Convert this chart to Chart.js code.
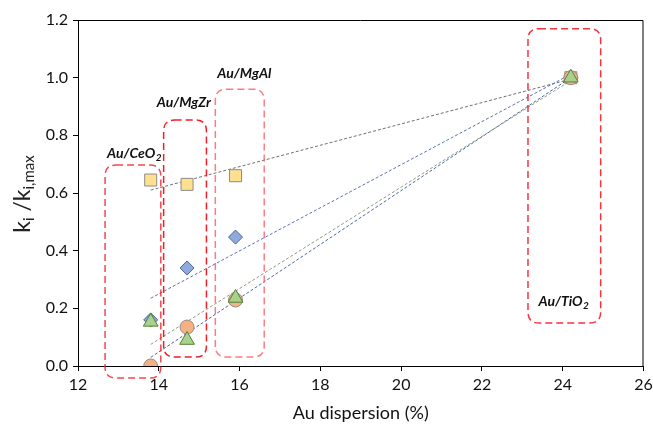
<!DOCTYPE html>
<html>
<head>
<meta charset="utf-8">
<script src="https://cdn.jsdelivr.net/npm/chart.js@4/dist/chart.umd.min.js"></script>
<style>
  html, body { margin: 0; padding: 0; background: #fff; }
  #wrap { width: 653px; height: 426px; }
</style>
</head>
<body>
<div id="wrap"><canvas id="dispChart" width="653" height="426"></canvas></div>
<script>
// Au dispersion (%) for each catalyst
const catalysts = ['Au/CeO2', 'Au/MgZr', 'Au/MgAl', 'Au/TiO2'];
const dispersion = [13.8, 14.7, 15.9, 24.2];

// normalised rate constants k_i / k_i,max, one array per series
const kSquare   = [0.645, 0.63, 0.66, 1.0];
const kDiamond  = [0.16, 0.34, 0.447, 1.0];
const kCircle   = [0.0, 0.135, 0.229, 1.0];
const kTriangle = [0.153, 0.09, 0.236, 1.0];

// trendline end values (at first and last dispersion)
const trendX        = [13.8, 24.2];
const trendSquare   = [0.61, 0.995];
const trendDiamond  = [0.235, 1.012];
const trendCircle   = [0.03, 1.0];
const trendTriangle = [0.075, 0.99];

const xTicks = [12, 14, 16, 18, 20, 22, 24, 26];
const yTicks = [0.0, 0.2, 0.4, 0.6, 0.8, 1.0, 1.2];

const FONT = "Lato, 'Open Sans', sans-serif";
Chart.defaults.font.family = FONT;
Chart.defaults.color = '#222';

function pts(xs, ys) {
  return xs.map((x, i) => ({ x: x, y: ys[i] }));
}

// dashed group boxes, in data units
const groupBoxes = [
  { label: 'Au/CeO', x0: 12.67, x1: 14.05, y0: -0.042, y1: 0.697, color: 'rgba(240,40,50,0.85)', tx: 12.72, ty: 0.72 },
  { label: 'Au/MgZr', x0: 14.12, x1: 15.18, y0: 0.031, y1: 0.853, color: 'rgba(235,20,30,0.95)', tx: 13.95, ty: 0.897 },
  { label: 'Au/MgAl', x0: 15.40, x1: 16.61, y0: 0.031, y1: 0.96, color: 'rgba(255,90,100,0.8)', tx: 15.45, ty: 1.0 },
  { label: 'Au/TiO', x0: 23.14, x1: 24.94, y0: 0.149, y1: 1.17, color: 'rgba(245,30,40,0.9)', tx: 23.4, ty: 0.208 }
];
const subTwo = { 'Au/CeO': true, 'Au/TiO': true };

function roundRect(ctx, x, y, w, h, r) {
  ctx.beginPath();
  ctx.moveTo(x + r, y);
  ctx.lineTo(x + w - r, y);
  ctx.quadraticCurveTo(x + w, y, x + w, y + r);
  ctx.lineTo(x + w, y + h - r);
  ctx.quadraticCurveTo(x + w, y + h, x + w - r, y + h);
  ctx.lineTo(x + r, y + h);
  ctx.quadraticCurveTo(x, y + h, x, y + h - r);
  ctx.lineTo(x, y + r);
  ctx.quadraticCurveTo(x, y, x + r, y);
  ctx.closePath();
}

const extras = {
  id: 'extras',
  beforeDatasetsDraw(chart) {
    const ctx = chart.ctx;
    const a = chart.chartArea;
    ctx.save();
    // frame top and right
    ctx.strokeStyle = '#000';
    ctx.lineWidth = 1;
    ctx.beginPath();
    ctx.moveTo(a.left, a.top + 0.5);
    ctx.lineTo(a.right - 0.5, a.top + 0.5);
    ctx.lineTo(a.right - 0.5, a.bottom);
    ctx.stroke();
    ctx.restore();
  },
  afterDatasetsDraw(chart) {
    const ctx = chart.ctx, xs = chart.scales.x, ys = chart.scales.y;
    ctx.save();
    groupBoxes.forEach(b => {
      const l = xs.getPixelForValue(b.x0), r = xs.getPixelForValue(b.x1);
      const t = ys.getPixelForValue(b.y1), btm = ys.getPixelForValue(b.y0);
      ctx.strokeStyle = b.color;
      ctx.lineWidth = 1.5;
      ctx.setLineDash([7, 4]);
      roundRect(ctx, l, t, r - l, btm - t, 11);
      ctx.stroke();
      ctx.setLineDash([]);
      // label
      const tx = xs.getPixelForValue(b.tx), ty = ys.getPixelForValue(b.ty);
      ctx.fillStyle = '#111';
      ctx.font = "italic bold 14px " + FONT;
      ctx.textBaseline = 'alphabetic';
      ctx.textAlign = 'left';
      ctx.fillText(b.label, tx, ty);
      if (subTwo[b.label]) {
        const w = ctx.measureText(b.label).width;
        ctx.font = "italic bold 10px " + FONT;
        ctx.fillText('2', tx + w + 0.5, ty + 3);
      }
    });
    ctx.restore();

    // y axis title with subscripts: k_i /k_i,max
    ctx.save();
    ctx.translate(30, 194);
    ctx.rotate(-Math.PI / 2);
    ctx.fillStyle = '#222';
    const parts = [
      { t: 'k', big: true }, { t: 'i', big: false }, { t: ' /k', big: true }, { t: 'i,max', big: false }
    ];
    let total = 0;
    parts.forEach(p => {
      ctx.font = (p.big ? '23px ' : '15px ') + FONT;
      p.w = ctx.measureText(p.t).width;
      total += p.w;
    });
    let cx = -total / 2;
    ctx.textBaseline = 'alphabetic';
    ctx.textAlign = 'left';
    parts.forEach(p => {
      ctx.font = (p.big ? '23px ' : '15px ') + FONT;
      ctx.fillText(p.t, cx, p.big ? 0 : 4);
      cx += p.w;
    });
    ctx.restore();
  }
};

const ctx = document.getElementById('dispChart').getContext('2d');
const dispChart = new Chart(ctx, {
  type: 'scatter',
  data: {
    datasets: [
      {
        label: 'triangle',
        data: pts(dispersion, kTriangle),
        pointStyle: 'triangle',
        pointRadius: 8.5,
        backgroundColor: '#a9d18e',
        borderColor: '#548235',
        borderWidth: 1,
        order: 1
      },
      {
        label: 'circle',
        data: pts(dispersion, kCircle),
        pointStyle: 'circle',
        pointRadius: 7,
        backgroundColor: '#f4b183',
        borderColor: '#9c8a80',
        borderWidth: 1,
        order: 2
      },
      {
        label: 'diamond',
        data: pts(dispersion, kDiamond),
        pointStyle: 'rectRot',
        pointRadius: 7,
        backgroundColor: '#8faadc',
        borderColor: '#4a6498',
        borderWidth: 1,
        order: 3
      },
      {
        label: 'square',
        data: pts(dispersion, kSquare),
        pointStyle: 'rect',
        pointRadius: 8.5,
        backgroundColor: '#ffe08f',
        borderColor: '#8c8c8c',
        borderWidth: 1,
        order: 4
      },
      {
        type: 'line', label: 'trend square', data: pts(trendX, trendSquare),
        borderColor: '#6f6f6f', borderWidth: 1, borderDash: [3, 2], pointRadius: 0, order: 5
      },
      {
        type: 'line', label: 'trend diamond', data: pts(trendX, trendDiamond),
        borderColor: '#5a72b0', borderWidth: 1, borderDash: [3, 2], pointRadius: 0, order: 5
      },
      {
        type: 'line', label: 'trend triangle', data: pts(trendX, trendTriangle),
        borderColor: '#8c9c7c', borderWidth: 1, borderDash: [3, 2], pointRadius: 0, order: 5
      },
      {
        type: 'line', label: 'trend circle', data: pts(trendX, trendCircle),
        borderColor: '#4a66aa', borderWidth: 1, borderDash: [3, 2], pointRadius: 0, order: 5
      }
    ]
  },
  options: {
    responsive: false,
    animation: false,
    layout: { padding: { top: 20, right: 7, left: 0, bottom: 0 } },
    plugins: {
      legend: { display: false },
      tooltip: { enabled: false }
    },
    scales: {
      x: {
        type: 'linear',
        min: 12,
        max: 26,
        afterBuildTicks: (scale) => { scale.ticks = xTicks.map(v => ({ value: v })); },
        afterFit: (scale) => { scale.height = 60; scale.paddingLeft = 0; scale.paddingRight = 0; },
        ticks: { font: { size: 16 }, color: '#111', padding: 4 },
        grid: { display: true, drawOnChartArea: false, tickLength: 5, color: '#000' },
        border: { color: '#000', width: 1 },
        title: { display: true, text: 'Au dispersion (%)', font: { size: 18 }, color: '#111', padding: { top: 2, bottom: 2 } }
      },
      y: {
        min: 0,
        max: 1.2,
        afterBuildTicks: (scale) => { scale.ticks = yTicks.map(v => ({ value: v })); },
        afterFit: (scale) => { scale.width = 78; scale.paddingTop = 0; scale.paddingBottom = 0; },
        ticks: { font: { size: 16 }, color: '#111', padding: 5, callback: (v) => v.toFixed(1) },
        grid: { display: true, drawOnChartArea: false, tickLength: 5, color: '#000' },
        border: { color: '#000', width: 1 }
      }
    }
  },
  plugins: [extras]
});
</script>
</body>
</html>
